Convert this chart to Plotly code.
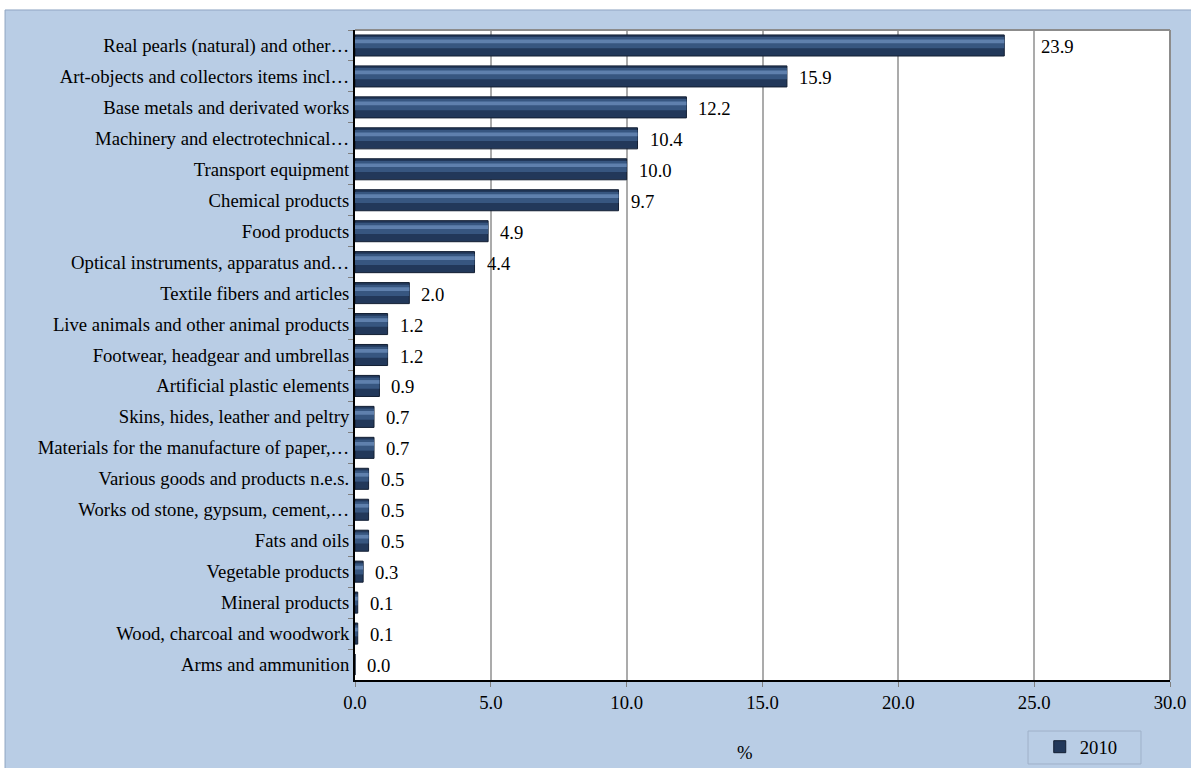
import plotly.graph_objects as go

categories = [
    "Real pearls (natural) and other…",
    "Art-objects and collectors items incl…",
    "Base metals and derivated works",
    "Machinery and electrotechnical…",
    "Transport equipment",
    "Chemical products",
    "Food products",
    "Optical instruments, apparatus and…",
    "Textile fibers and articles",
    "Live animals and other animal products",
    "Footwear, headgear and umbrellas",
    "Artificial plastic elements",
    "Skins, hides, leather and peltry",
    "Materials for the manufacture of paper,…",
    "Various goods and products n.e.s.",
    "Works od stone, gypsum, cement,…",
    "Fats and oils",
    "Vegetable products",
    "Mineral products",
    "Wood, charcoal and woodwork",
    "Arms and ammunition",
]
values_2010 = [23.9, 15.9, 12.2, 10.4, 10.0, 9.7, 4.9, 4.4, 2.0, 1.2, 1.2,
               0.9, 0.7, 0.7, 0.5, 0.5, 0.5, 0.3, 0.1, 0.1, 0.0]
series_name = "2010"
x_ticks = [0, 5, 10, 15, 20, 25, 30]

FONT = "Liberation Serif, Times New Roman, serif"
FS = 18.7
BLUE_BG = "#b9cde5"

fig = go.Figure()

# base bar
fig.add_trace(go.Bar(
    y=categories, x=values_2010, orientation="h", name=series_name,
    width=0.68, offset=-0.34,
    marker=dict(color="#22385a", line=dict(color="#131f33", width=1)),
    showlegend=True,
))
# bevel highlights
fig.add_trace(go.Bar(
    y=categories, x=values_2010, orientation="h",
    width=0.36, offset=-0.27,
    marker=dict(color="#375680", line=dict(width=0)),
    showlegend=False, hoverinfo="skip",
))
fig.add_trace(go.Bar(
    y=categories, x=values_2010, orientation="h",
    width=0.12, offset=-0.19,
    marker=dict(color="#5f80ad", line=dict(width=0)),
    showlegend=False, hoverinfo="skip",
))

annotations = []
for i, (c, v) in enumerate(zip(categories, values_2010)):
    annotations.append(dict(
        x=v, y=c, xref="x", yref="y", text=f"{v:.1f}",
        showarrow=False, xanchor="left", yanchor="middle",
        xshift=(35 if i == 0 else 10), yshift=-1,
        font=dict(family=FONT, size=FS, color="black"),
    ))
annotations.append(dict(
    x=0.4785, y=-0.111, xref="paper", yref="paper", text="%",
    showarrow=False, xanchor="center", yanchor="middle",
    font=dict(family=FONT, size=FS, color="black"),
))

shapes = [
    # white strips outside the blue panel
    dict(type="rect", xref="paper", yref="paper", x0=-0.5, x1=1.2,
         y0=1.0308, y1=1.2, fillcolor="white", line=dict(width=0), layer="below"),
    dict(type="rect", xref="paper", yref="paper", x0=-0.5, x1=-0.4294,
         y0=-0.2, y1=1.2, fillcolor="white", line=dict(width=0), layer="below"),
    # panel border
    dict(type="line", xref="paper", yref="paper", x0=-0.4294, x1=1.1,
         y0=1.0308, y1=1.0308, line=dict(color="#8fa5c2", width=1)),
    dict(type="line", xref="paper", yref="paper", x0=-0.4294, x1=-0.4294,
         y0=-0.2, y1=1.0308, line=dict(color="#8fa5c2", width=1)),
    # plot area top/right border (grey)
    dict(type="line", xref="paper", yref="paper", x0=0, x1=1, y0=1, y1=1,
         line=dict(color="#8c8c8c", width=2)),
    dict(type="line", xref="paper", yref="paper", x0=1, x1=1, y0=0, y1=1,
         line=dict(color="#8c8c8c", width=2)),
    # legend box
    dict(type="rect", xref="paper", yref="paper", x0=0.8258, x1=0.9644,
         y0=-0.1292, y1=-0.0785, line=dict(color="#9fb1c9", width=1),
         fillcolor="rgba(0,0,0,0)"),
]

fig.update_layout(
    width=1191, height=768,
    margin=dict(l=355, r=21, t=30, b=88, autoexpand=False),
    paper_bgcolor=BLUE_BG, plot_bgcolor="white",
    barmode="overlay",
    font=dict(family=FONT, size=FS, color="black"),
    xaxis=dict(
        range=[0, 30], tickvals=x_ticks, tickformat=".1f",
        showgrid=True, gridcolor="#ababab", gridwidth=1.5,
        showline=True, linecolor="black", linewidth=2,
        ticks="outside", ticklen=5, tickcolor="#7f7f7f",
        zeroline=False, tickfont=dict(family=FONT, size=FS, color="black"),
        fixedrange=True, automargin=False,
    ),
    yaxis=dict(
        type="category", categoryorder="array", categoryarray=categories,
        range=[20.5, -0.5], showgrid=False,
        showline=True, linecolor="black", linewidth=2,
        ticks="outside", ticklen=5, tickcolor="#7f7f7f",
        tickson="boundaries",
        tickfont=dict(family=FONT, size=FS, color="black"),
        fixedrange=True, automargin=False,
    ),
    legend=dict(
        xref="container", yref="container",
        x=0.873, y=0.0273, xanchor="left", yanchor="middle",
        bgcolor="rgba(0,0,0,0)", borderwidth=0,
        font=dict(family=FONT, size=FS, color="black"),
        itemwidth=30,
    ),
    annotations=annotations,
    shapes=shapes,
)

fig.write_html(
    "out.html",
    config={"displayModeBar": False},
    post_script="document.body.style.margin='0';document.body.style.overflow='hidden';",
)
